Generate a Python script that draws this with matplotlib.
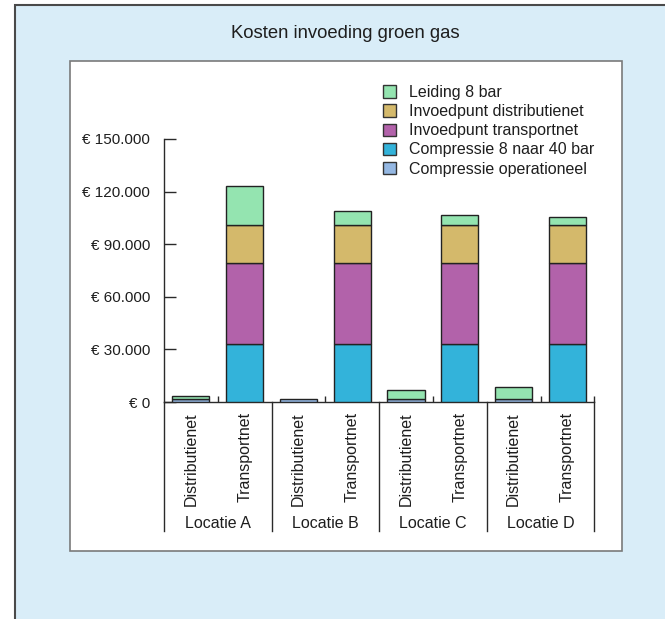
import matplotlib
matplotlib.use("Agg")
import numpy as np
from matplotlib import pyplot as plt
from matplotlib import rcParams
from matplotlib.patches import Rectangle, Patch
from matplotlib.ticker import FuncFormatter
import matplotlib.transforms as mtransforms

textcolor = "#1e1e1e"
linecolor = "#2a2a2a"

rcParams["font.family"] = ["Liberation Sans", "DejaVu Sans"]
rcParams["text.color"] = textcolor
rcParams["axes.edgecolor"] = linecolor
rcParams["xtick.color"] = linecolor
rcParams["ytick.color"] = linecolor

# data
categories = ["Distributienet", "Transportnet"] * 4
locations = ["Locatie A", "Locatie B", "Locatie C", "Locatie D"]

compressie_operationeel = [1900, 0, 1500, 0, 1900, 0, 1900, 0]
compressie_8_40 = [0, 33300, 0, 33300, 0, 33300, 0, 33300]
invoedpunt_transportnet = [0, 46100, 0, 46100, 0, 46100, 0, 46100]
invoedpunt_distributienet = [0, 21300, 0, 21300, 0, 21300, 0, 21300]
leiding_8bar = [1700, 22500, 0, 8400, 5200, 6100, 6500, 4800]

series = [
    ("Compressie operationeel", compressie_operationeel, "#94b7e2"),
    ("Compressie 8 naar 40 bar", compressie_8_40, "#33b3da"),
    ("Invoedpunt transportnet", invoedpunt_transportnet, "#b262aa"),
    ("Invoedpunt distributienet", invoedpunt_distributienet, "#d4b96b"),
    ("Leiding 8 bar", leiding_8bar, "#94e4b0"),
]

W, H = 665, 619
fig = plt.figure(figsize=(W / 100, H / 100), dpi=100)
fig.patch.set_facecolor("white")

# light blue frame and white panel
fig.patches.append(Rectangle((15 / W, -0.1), 1.1, 1 - 5 / H + 0.1, transform=fig.transFigure,
                             facecolor="#d9edf8", edgecolor="#4a4a4a", linewidth=1.5, zorder=-3))
fig.patches.append(Rectangle((70 / W, 1 - 551 / H), 552 / W, 490 / H, transform=fig.transFigure,
                             facecolor="white", edgecolor="#7a7a7a", linewidth=1.2, zorder=-2))

fig.text(345 / W, 1 - 33 / H, "Kosten invoeding groen gas", ha="center", va="center", fontsize=13.3)

ax = fig.add_axes([164 / W, 1 - 402 / H, 430.3 / W, 263 / H])
ax.set_facecolor("none")

x = np.arange(len(categories)) + 0.5
bottom = np.zeros(len(categories))
for name, values, color in series:
    values = np.array(values, dtype=float)
    mask = values > 0
    ax.bar(x[mask], values[mask], width=0.69, bottom=bottom[mask], color=color,
           edgecolor="#222222", linewidth=1.0, label=name, zorder=3)
    bottom += values

ax.set_xlim(0, 8)
ax.set_ylim(0, 150000)
ax.spines["top"].set_visible(False)
ax.spines["right"].set_visible(False)
ax.spines["left"].set_linewidth(1.0)
ax.spines["bottom"].set_linewidth(1.0)

ax.set_yticks(np.arange(0, 150001, 30000))
ax.yaxis.set_major_formatter(FuncFormatter(lambda v, p: "€ " + f"{v:,.0f}".replace(",", ".")))
ax.tick_params(axis="y", direction="in", length=8.5, width=1.0, pad=10, labelsize=11, labelcolor=textcolor)
ax.set_xticks([1, 3, 5, 7, 8])
ax.set_xticklabels([])
ax.tick_params(axis="x", direction="in", length=4, width=1.0)

trans = mtransforms.blended_transform_factory(ax.transData, ax.transAxes)
line_bottom = (402 - 531) / 263
for sep in [0, 2, 4, 6, 8]:
    ax.plot([sep, sep], [0, line_bottom], color=linecolor, linewidth=1.0,
            transform=trans, clip_on=False)

for xi, label in zip(x, categories):
    ax.text(xi, (402 - 412) / 263, label, rotation=90, ha="center", va="top",
            fontsize=11.5, transform=trans)

for i, loc in enumerate(locations):
    ax.text(2 * i + 1, (402 - 523) / 263, loc, ha="center", va="center",
            fontsize=11.5, transform=trans)

handles = [Patch(facecolor=c, edgecolor="#333333", linewidth=1.0, label=n) for n, v, c in series[::-1]]
ax.legend(handles=handles, loc="upper left", bbox_to_anchor=(383 / W, 1 - 85 / H),
          bbox_transform=fig.transFigure, frameon=False, fontsize=11.5, borderpad=0,
          borderaxespad=0, handlelength=0.8, handleheight=0.8, handletextpad=0.8,
          labelspacing=0.26)

fig.savefig("out.png", dpi=100)
